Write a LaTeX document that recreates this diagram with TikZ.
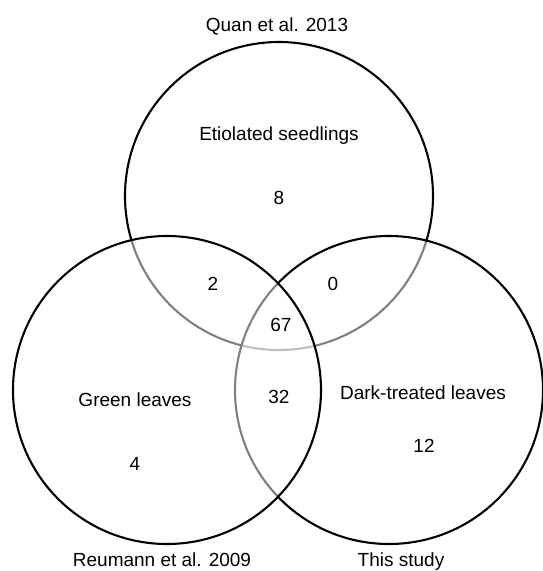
\documentclass[tikz,border=0pt]{standalone}
\usepackage{fontspec}
\setmainfont{Liberation Sans}
\usetikzlibrary{positioning}

\begin{document}
\begin{tikzpicture}[
        x=1pt, y=-1pt,
        venn/.style={circle, draw=black, line width=2.1pt, fill=white, fill opacity=0.5, minimum size=308pt, inner sep=0pt},
        txt/.style={anchor=base, inner sep=0pt, font=\fontsize{19}{23}\selectfont}
    ]
        \useasboundingbox (0,0) rectangle (543,571);

        % Circles
        \node[venn] (quan) at (279,196) {};
        \node[venn] (study) at (389,390) {};
        \node[venn] (reumann) at (167,390) {};

        % Set names
        \node[txt] (quanname) at (277,31) {Quan et al. 2013};
        \node[txt] (reumannname) at (162,566) {Reumann et al. 2009};
        \node[txt] (studyname) at (401,566) {This study};

        % Tissues
        \node[txt] (etiolated) at (279,140) {Etiolated seedlings};
        \node[txt] (green) at (135,406) {Green leaves};
        \node[txt] (dark) at (423,399) {Dark-treated leaves};

        % Counts
        \node[txt] (onlyquan) at (279,204) {8};
        \node[txt] (onlyreumann) at (135,470) {4};
        \node[txt] (onlystudy) at (424,452) {12};
        \node[txt] (quanreumann) at (213,290) {2};
        \node[txt] (quanstudy) at (333,290) {0};
        \node[txt] (reumannstudy) at (279,403) {32};
        \node[txt] (allthree) at (281,331) {67};
    \end{tikzpicture}
\end{document}
